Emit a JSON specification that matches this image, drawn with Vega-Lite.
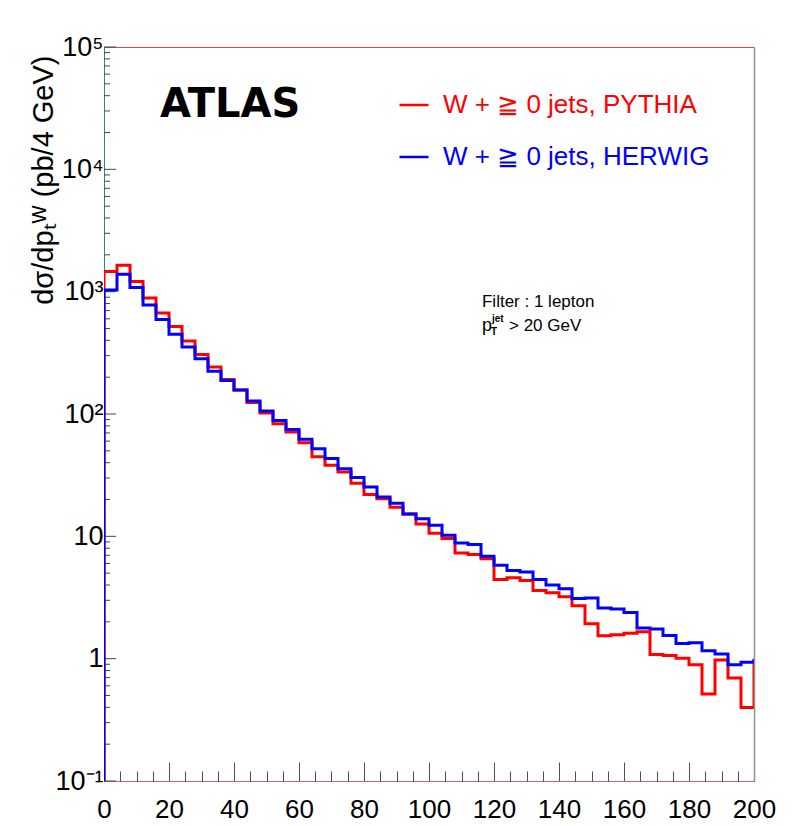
{
  "$schema": "https://vega.github.io/schema/vega-lite/v6.json",
  "width": 650,
  "height": 734,
  "autosize": "none",
  "padding": {"left": 104, "top": 47, "right": 55, "bottom": 45},
  "background": "white",
  "config": {
    "view": {"stroke": "#d84a4a", "strokeWidth": 1},
    "font": "Liberation Sans"
  },
  "resolve": {"axis": {"x": "independent", "y": "independent"}},
  "datasets": {
    "majorY": [{"v": 0.1}, {"v": 1}, {"v": 10}, {"v": 100}, {"v": 1000}, {"v": 10000}, {"v": 100000}],
    "minorY": [
      {"v": 0.2}, {"v": 0.3}, {"v": 0.4}, {"v": 0.5}, {"v": 0.6}, {"v": 0.7}, {"v": 0.8}, {"v": 0.9},
      {"v": 2}, {"v": 3}, {"v": 4}, {"v": 5}, {"v": 6}, {"v": 7}, {"v": 8}, {"v": 9},
      {"v": 20}, {"v": 30}, {"v": 40}, {"v": 50}, {"v": 60}, {"v": 70}, {"v": 80}, {"v": 90},
      {"v": 200}, {"v": 300}, {"v": 400}, {"v": 500}, {"v": 600}, {"v": 700}, {"v": 800}, {"v": 900},
      {"v": 2000}, {"v": 3000}, {"v": 4000}, {"v": 5000}, {"v": 6000}, {"v": 7000}, {"v": 8000}, {"v": 9000},
      {"v": 20000}, {"v": 30000}, {"v": 40000}, {"v": 50000}, {"v": 60000}, {"v": 70000}, {"v": 80000}, {"v": 90000}
    ]
  },
  "data": {
    "values": [
      {"gen": "PYTHIA", "pt": 0, "xs": 0.1},
      {"gen": "PYTHIA", "pt": 0, "xs": 1460},
      {"gen": "PYTHIA", "pt": 4, "xs": 1644},
      {"gen": "PYTHIA", "pt": 8, "xs": 1210},
      {"gen": "PYTHIA", "pt": 12, "xs": 888},
      {"gen": "PYTHIA", "pt": 16, "xs": 669},
      {"gen": "PYTHIA", "pt": 20, "xs": 518},
      {"gen": "PYTHIA", "pt": 24, "xs": 395},
      {"gen": "PYTHIA", "pt": 28, "xs": 307},
      {"gen": "PYTHIA", "pt": 32, "xs": 242},
      {"gen": "PYTHIA", "pt": 36, "xs": 191},
      {"gen": "PYTHIA", "pt": 40, "xs": 157},
      {"gen": "PYTHIA", "pt": 44, "xs": 124},
      {"gen": "PYTHIA", "pt": 48, "xs": 102},
      {"gen": "PYTHIA", "pt": 52, "xs": 83.4},
      {"gen": "PYTHIA", "pt": 56, "xs": 71.1},
      {"gen": "PYTHIA", "pt": 60, "xs": 58.2},
      {"gen": "PYTHIA", "pt": 64, "xs": 44.7},
      {"gen": "PYTHIA", "pt": 68, "xs": 38.2},
      {"gen": "PYTHIA", "pt": 72, "xs": 33.5},
      {"gen": "PYTHIA", "pt": 76, "xs": 27.1},
      {"gen": "PYTHIA", "pt": 80, "xs": 22.0},
      {"gen": "PYTHIA", "pt": 84, "xs": 20.3},
      {"gen": "PYTHIA", "pt": 88, "xs": 17.3},
      {"gen": "PYTHIA", "pt": 92, "xs": 15.2},
      {"gen": "PYTHIA", "pt": 96, "xs": 12.6},
      {"gen": "PYTHIA", "pt": 100, "xs": 10.6},
      {"gen": "PYTHIA", "pt": 104, "xs": 9.6},
      {"gen": "PYTHIA", "pt": 108, "xs": 7.3},
      {"gen": "PYTHIA", "pt": 112, "xs": 7.1},
      {"gen": "PYTHIA", "pt": 116, "xs": 6.56},
      {"gen": "PYTHIA", "pt": 120, "xs": 4.43},
      {"gen": "PYTHIA", "pt": 124, "xs": 4.58},
      {"gen": "PYTHIA", "pt": 128, "xs": 4.35},
      {"gen": "PYTHIA", "pt": 132, "xs": 3.6},
      {"gen": "PYTHIA", "pt": 136, "xs": 3.45},
      {"gen": "PYTHIA", "pt": 140, "xs": 3.2},
      {"gen": "PYTHIA", "pt": 144, "xs": 2.71},
      {"gen": "PYTHIA", "pt": 148, "xs": 1.93},
      {"gen": "PYTHIA", "pt": 152, "xs": 1.54},
      {"gen": "PYTHIA", "pt": 156, "xs": 1.57},
      {"gen": "PYTHIA", "pt": 160, "xs": 1.61},
      {"gen": "PYTHIA", "pt": 164, "xs": 1.66},
      {"gen": "PYTHIA", "pt": 168, "xs": 1.08},
      {"gen": "PYTHIA", "pt": 172, "xs": 1.06},
      {"gen": "PYTHIA", "pt": 176, "xs": 1.01},
      {"gen": "PYTHIA", "pt": 180, "xs": 0.893},
      {"gen": "PYTHIA", "pt": 184, "xs": 0.515},
      {"gen": "PYTHIA", "pt": 188, "xs": 0.976},
      {"gen": "PYTHIA", "pt": 192, "xs": 0.695},
      {"gen": "PYTHIA", "pt": 196, "xs": 0.399},
      {"gen": "PYTHIA", "pt": 200, "xs": 0.98},
      {"gen": "HERWIG", "pt": 0, "xs": 0.1},
      {"gen": "HERWIG", "pt": 0, "xs": 1033},
      {"gen": "HERWIG", "pt": 4, "xs": 1388},
      {"gen": "HERWIG", "pt": 8, "xs": 1080},
      {"gen": "HERWIG", "pt": 12, "xs": 778},
      {"gen": "HERWIG", "pt": 16, "xs": 591},
      {"gen": "HERWIG", "pt": 20, "xs": 448},
      {"gen": "HERWIG", "pt": 24, "xs": 353},
      {"gen": "HERWIG", "pt": 28, "xs": 283},
      {"gen": "HERWIG", "pt": 32, "xs": 224},
      {"gen": "HERWIG", "pt": 36, "xs": 188},
      {"gen": "HERWIG", "pt": 40, "xs": 157},
      {"gen": "HERWIG", "pt": 44, "xs": 128},
      {"gen": "HERWIG", "pt": 48, "xs": 106},
      {"gen": "HERWIG", "pt": 52, "xs": 88.3},
      {"gen": "HERWIG", "pt": 56, "xs": 74.8},
      {"gen": "HERWIG", "pt": 60, "xs": 62.3},
      {"gen": "HERWIG", "pt": 64, "xs": 52.1},
      {"gen": "HERWIG", "pt": 68, "xs": 43.3},
      {"gen": "HERWIG", "pt": 72, "xs": 35.7},
      {"gen": "HERWIG", "pt": 76, "xs": 30.3},
      {"gen": "HERWIG", "pt": 80, "xs": 25.3},
      {"gen": "HERWIG", "pt": 84, "xs": 21.0},
      {"gen": "HERWIG", "pt": 88, "xs": 18.6},
      {"gen": "HERWIG", "pt": 92, "xs": 15.2},
      {"gen": "HERWIG", "pt": 96, "xs": 13.9},
      {"gen": "HERWIG", "pt": 100, "xs": 12.3},
      {"gen": "HERWIG", "pt": 104, "xs": 10.2},
      {"gen": "HERWIG", "pt": 108, "xs": 8.81},
      {"gen": "HERWIG", "pt": 112, "xs": 8.57},
      {"gen": "HERWIG", "pt": 116, "xs": 6.87},
      {"gen": "HERWIG", "pt": 120, "xs": 5.8},
      {"gen": "HERWIG", "pt": 124, "xs": 5.25},
      {"gen": "HERWIG", "pt": 128, "xs": 5.12},
      {"gen": "HERWIG", "pt": 132, "xs": 4.43},
      {"gen": "HERWIG", "pt": 136, "xs": 4.01},
      {"gen": "HERWIG", "pt": 140, "xs": 3.72},
      {"gen": "HERWIG", "pt": 144, "xs": 3.1},
      {"gen": "HERWIG", "pt": 148, "xs": 3.14},
      {"gen": "HERWIG", "pt": 152, "xs": 2.6},
      {"gen": "HERWIG", "pt": 156, "xs": 2.55},
      {"gen": "HERWIG", "pt": 160, "xs": 2.39},
      {"gen": "HERWIG", "pt": 164, "xs": 1.78},
      {"gen": "HERWIG", "pt": 168, "xs": 1.75},
      {"gen": "HERWIG", "pt": 172, "xs": 1.55},
      {"gen": "HERWIG", "pt": 176, "xs": 1.33},
      {"gen": "HERWIG", "pt": 180, "xs": 1.35},
      {"gen": "HERWIG", "pt": 184, "xs": 1.16},
      {"gen": "HERWIG", "pt": 188, "xs": 1.09},
      {"gen": "HERWIG", "pt": 192, "xs": 0.893},
      {"gen": "HERWIG", "pt": 196, "xs": 0.936},
      {"gen": "HERWIG", "pt": 200, "xs": 1.0}
    ]
  },
  "layer": [
    {
      "data": {"name": "majorY"},
      "mark": {"type": "rule", "color": "#2f4f4f", "strokeWidth": 1},
      "encoding": {
        "x": {"datum": 0, "axis": null},
        "x2": {"datum": 3.7},
        "y": {"field": "v", "type": "quantitative", "axis": null}
      }
    },
    {
      "data": {"name": "minorY"},
      "mark": {"type": "rule", "color": "#2f4f4f", "strokeWidth": 1},
      "encoding": {
        "x": {"datum": 0, "axis": null},
        "x2": {"datum": 1.85},
        "y": {"field": "v", "type": "quantitative", "axis": null}
      }
    },
    {
      "mark": {"type": "line", "interpolate": "step-after", "strokeWidth": 3, "clip": true},
      "encoding": {
        "x": {
          "field": "pt",
          "type": "quantitative",
          "scale": {"domain": [0, 200], "nice": false, "zero": false},
          "axis": {
            "orient": "bottom",
            "title": null,
            "grid": false,
            "values": [0, 20, 40, 60, 80, 100, 120, 140, 160, 180, 200],
            "tickSize": -19,
            "tickColor": "#505050",
            "tickWidth": 1,
            "domainColor": "#e06060",
            "labelFont": "Liberation Sans",
            "labelFontSize": 26,
            "labelColor": "#000000",
            "labelPadding": 34,
            "labelFlush": false,
            "labelOverlap": false
          }
        },
        "y": {
          "field": "xs",
          "type": "quantitative",
          "scale": {"type": "log", "domain": [0.1, 100000], "nice": false},
          "axis": {
            "orient": "left",
            "values": [0.1, 1, 10, 100, 1000, 10000, 100000],
            "labelExpr": "datum.value == 0.1 ? '10⁻¹' : datum.value == 1 ? '1' : datum.value == 10 ? '10' : datum.value == 100 ? '10²' : datum.value == 1000 ? '10³' : datum.value == 10000 ? '10⁴' : '10⁵'",
            "ticks": false,
            "grid": false,
            "domainColor": "#3f8080",
            "labelFont": "Liberation Sans",
            "labelFontSize": 27,
            "labelColor": "#000000",
            "labelPadding": 1,
            "labelOverlap": false,
            "labelFlush": false,
            "title": "dσ/dpₜᵂ     (pb/4 GeV)",
            "titleFont": "Liberation Sans",
            "titleFontSize": 29,
            "titleFontWeight": "normal",
            "titleColor": "#000000",
            "titleAlign": "right",
            "titleBaseline": "alphabetic",
            "titleX": -52,
            "titleY": 8
          }
        },
        "color": {
          "field": "gen",
          "type": "nominal",
          "scale": {"domain": ["PYTHIA", "HERWIG"], "range": ["#ff0000", "#0000ff"]},
          "legend": {
            "orient": "none",
            "legendX": 294,
            "legendY": 42,
            "title": null,
            "padding": 0,
            "symbolType": "stroke",
            "symbolSize": 841,
            "symbolStrokeWidth": 2.5,
            "labelFont": "Liberation Sans",
            "labelFontSize": 26,
            "labelOffset": 13,
            "rowPadding": 23,
            "labelLimit": 400,
            "labelExpr": "'W + ≧ 0 jets, ' + datum.value",
            "encode": {
              "labels": {"update": {"fill": {"signal": "scale('color', datum.value)"}}}
            }
          }
        }
      }
    },
    {
      "data": {"values": [{}]},
      "mark": {"type": "text", "align": "left", "baseline": "alphabetic", "font": "DejaVu Sans", "fontWeight": "bold", "fontSize": 40, "fill": "#000000"},
      "encoding": {
        "x": {
          "datum": 17.2,
          "axis": {
            "orient": "bottom",
            "title": null,
            "grid": false,
            "domain": false,
            "labels": false,
            "values": [5, 10, 15, 25, 30, 35, 45, 50, 55, 65, 70, 75, 85, 90, 95, 105, 110, 115, 125, 130, 135, 145, 150, 155, 165, 170, 175, 185, 190, 195],
            "tickSize": -10,
            "tickColor": "#505050",
            "tickWidth": 1
          }
        },
        "y": {"datum": 26700, "axis": null},
        "text": {"value": "ATLAS"}
      }
    },
    {
      "data": {"values": [{}]},
      "mark": {"type": "text", "align": "left", "baseline": "alphabetic", "fontSize": 17, "fill": "#000000"},
      "encoding": {
        "x": {"datum": 116.3, "axis": null},
        "y": {
          "datum": 745,
          "axis": {"orient": "right", "zindex": 1, "title": null, "grid": false, "ticks": false, "labels": false, "domain": true, "domainColor": "#909090", "domainWidth": 1.5}
        },
        "text": {"value": "Filter : 1 lepton"}
      }
    },
    {
      "data": {"values": [{}]},
      "mark": {"type": "text", "align": "left", "baseline": "alphabetic", "fontSize": 18, "fill": "#000000"},
      "encoding": {"x": {"datum": 116.3, "axis": null}, "y": {"datum": 474, "axis": null}, "text": {"value": "p"}}
    },
    {
      "data": {"values": [{}]},
      "mark": {"type": "text", "align": "left", "baseline": "alphabetic", "fontSize": 10, "fontWeight": "bold", "dx": 9, "dy": 4, "fill": "#000000"},
      "encoding": {"x": {"datum": 116.3, "axis": null}, "y": {"datum": 474, "axis": null}, "text": {"value": "T"}}
    },
    {
      "data": {"values": [{}]},
      "mark": {"type": "text", "align": "left", "baseline": "alphabetic", "fontSize": 10, "fontWeight": "bold", "dx": 10, "dy": -9, "fill": "#000000"},
      "encoding": {"x": {"datum": 116.3, "axis": null}, "y": {"datum": 474, "axis": null}, "text": {"value": "jet"}}
    },
    {
      "data": {"values": [{}]},
      "mark": {"type": "text", "align": "left", "baseline": "alphabetic", "fontSize": 17, "dx": 27, "fill": "#000000"},
      "encoding": {"x": {"datum": 116.3, "axis": null}, "y": {"datum": 474, "axis": null}, "text": {"value": "> 20 GeV"}}
    }
  ]
}
